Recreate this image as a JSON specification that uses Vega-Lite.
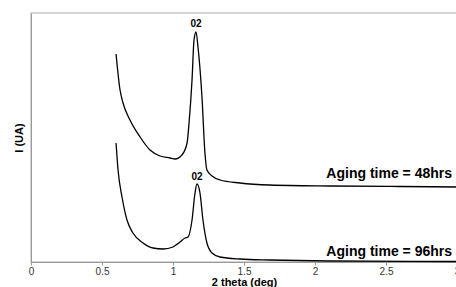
{
  "$schema": "https://vega.github.io/schema/vega-lite/v6.json",
  "width": 426,
  "height": 249,
  "autosize": "none",
  "padding": {"left": 31, "top": 13, "right": 0, "bottom": 25},
  "background": "white",
  "config": {
    "view": {"stroke": "#c8c8c8", "strokeWidth": 1.5},
    "font": "Liberation Sans"
  },
  "datasets": {
    "curves": [
      {"theta": 0.599, "I": 208, "series": "48hrs"},
      {"theta": 0.627, "I": 172, "series": "48hrs"},
      {"theta": 0.648, "I": 159, "series": "48hrs"},
      {"theta": 0.697, "I": 142, "series": "48hrs"},
      {"theta": 0.768, "I": 125, "series": "48hrs"},
      {"theta": 0.838, "I": 112, "series": "48hrs"},
      {"theta": 0.908, "I": 106, "series": "48hrs"},
      {"theta": 0.979, "I": 104, "series": "48hrs"},
      {"theta": 1.014, "I": 103, "series": "48hrs"},
      {"theta": 1.063, "I": 107, "series": "48hrs"},
      {"theta": 1.099, "I": 119, "series": "48hrs"},
      {"theta": 1.113, "I": 139, "series": "48hrs"},
      {"theta": 1.134, "I": 182, "series": "48hrs"},
      {"theta": 1.148, "I": 222, "series": "48hrs"},
      {"theta": 1.162, "I": 230, "series": "48hrs"},
      {"theta": 1.176, "I": 215, "series": "48hrs"},
      {"theta": 1.204, "I": 165, "series": "48hrs"},
      {"theta": 1.225, "I": 109, "series": "48hrs"},
      {"theta": 1.239, "I": 92, "series": "48hrs"},
      {"theta": 1.275, "I": 86, "series": "48hrs"},
      {"theta": 1.331, "I": 82, "series": "48hrs"},
      {"theta": 1.472, "I": 79, "series": "48hrs"},
      {"theta": 1.683, "I": 77, "series": "48hrs"},
      {"theta": 2.106, "I": 76, "series": "48hrs"},
      {"theta": 2.599, "I": 75.5, "series": "48hrs"},
      {"theta": 2.993, "I": 75, "series": "48hrs"},
      {"theta": 0.599, "I": 119, "series": "96hrs"},
      {"theta": 0.613, "I": 92, "series": "96hrs"},
      {"theta": 0.641, "I": 65, "series": "96hrs"},
      {"theta": 0.676, "I": 42, "series": "96hrs"},
      {"theta": 0.718, "I": 29, "series": "96hrs"},
      {"theta": 0.789, "I": 19, "series": "96hrs"},
      {"theta": 0.859, "I": 14, "series": "96hrs"},
      {"theta": 0.93, "I": 13, "series": "96hrs"},
      {"theta": 1.0, "I": 15, "series": "96hrs"},
      {"theta": 1.049, "I": 20, "series": "96hrs"},
      {"theta": 1.085, "I": 24, "series": "96hrs"},
      {"theta": 1.106, "I": 25, "series": "96hrs"},
      {"theta": 1.134, "I": 42, "series": "96hrs"},
      {"theta": 1.155, "I": 69, "series": "96hrs"},
      {"theta": 1.169, "I": 78, "series": "96hrs"},
      {"theta": 1.19, "I": 69, "series": "96hrs"},
      {"theta": 1.211, "I": 42, "series": "96hrs"},
      {"theta": 1.239, "I": 19, "series": "96hrs"},
      {"theta": 1.275, "I": 9, "series": "96hrs"},
      {"theta": 1.331, "I": 5, "series": "96hrs"},
      {"theta": 1.472, "I": 3, "series": "96hrs"},
      {"theta": 1.683, "I": 2, "series": "96hrs"},
      {"theta": 2.106, "I": 1, "series": "96hrs"},
      {"theta": 2.993, "I": 0.5, "series": "96hrs"}
    ],
    "peaks": [
      {"theta": 1.162, "I": 238, "label": "02"},
      {"theta": 1.169, "I": 85, "label": "02"}
    ],
    "names": [
      {"theta": 2.965, "I": 88, "label": "Aging time = 48hrs"},
      {"theta": 2.965, "I": 10, "label": "Aging time = 96hrs"}
    ]
  },
  "layer": [
    {
      "data": {"name": "curves"},
      "mark": {"type": "line", "stroke": "black", "strokeWidth": 1.3, "interpolate": "monotone"},
      "encoding": {
        "x": {
          "field": "theta", "type": "quantitative",
          "scale": {"domain": [0, 3], "nice": false},
          "axis": {
            "title": "2 theta (deg)", "values": [0, 0.5, 1, 1.5, 2, 2.5, 3], "format": "~g",
            "grid": false, "domainColor": "#999", "tickColor": "#999", "tickSize": 3,
            "labelFontSize": 10, "labelColor": "#333", "labelPadding": 1,
            "labelFont": "Liberation Sans", "labelFlush": false,
            "titleFontSize": 11, "titleFontWeight": "bold", "titlePadding": 0, "titleColor": "black",
            "titleFont": "Liberation Sans"
          }
        },
        "y": {
          "field": "I", "type": "quantitative",
          "scale": {"domain": [0, 249], "nice": false},
          "axis": {
            "title": "I (UA)", "labels": false, "ticks": false, "grid": false,
            "domainColor": "#999", "titleFontSize": 11, "titleFontWeight": "bold",
            "titlePadding": 7, "titleColor": "black", "titleFont": "Liberation Sans"
          }
        },
        "detail": {"field": "series"}
      }
    },
    {
      "data": {"name": "peaks"},
      "mark": {"type": "text", "fontSize": 10, "fontWeight": "bold", "baseline": "middle", "align": "center", "font": "Liberation Sans"},
      "encoding": {
        "x": {"field": "theta", "type": "quantitative"},
        "y": {"field": "I", "type": "quantitative"},
        "text": {"field": "label"}
      }
    },
    {
      "data": {"name": "names"},
      "mark": {"type": "text", "fontSize": 14, "fontWeight": "bold", "baseline": "middle", "align": "right", "font": "Liberation Sans"},
      "encoding": {
        "x": {"field": "theta", "type": "quantitative"},
        "y": {"field": "I", "type": "quantitative"},
        "text": {"field": "label"}
      }
    }
  ]
}
